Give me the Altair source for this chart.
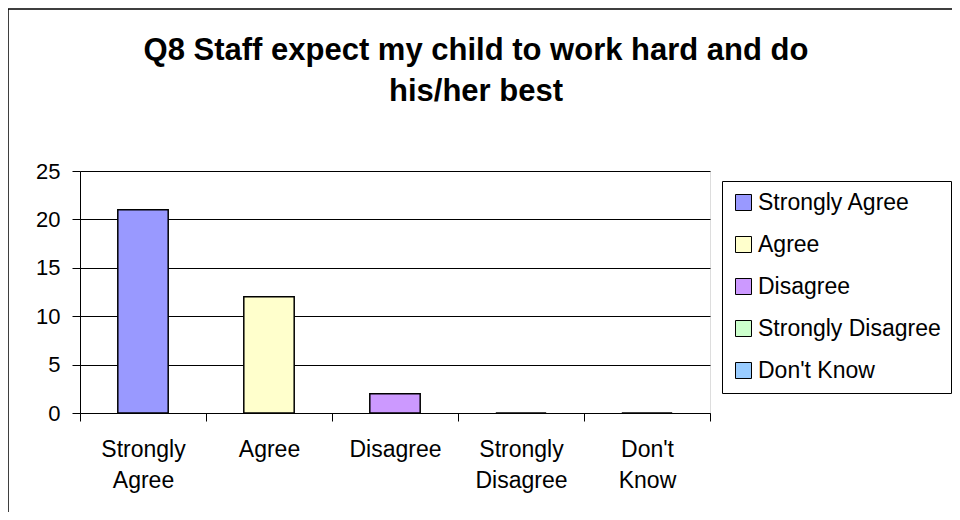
import altair as alt
import pandas as pd

categories = ["Strongly Agree", "Agree", "Disagree", "Strongly Disagree", "Don't Know"]
counts = [21, 12, 2, 0, 0]
colors = ["#9999FF", "#FFFFCC", "#CC99FF", "#CCFFCC", "#99CCFF"]
y_ticks = [0, 5, 10, 15, 20, 25]
title_lines = ["Q8 Staff expect my child to work hard and do", "his/her best"]

FONT = "Liberation Sans"

df = pd.DataFrame({"Response": categories, "Count": counts})

frame = alt.Chart(pd.DataFrame({"k": [0]})).mark_rect(
    fill="transparent", stroke="black", strokeWidth=1.5
).encode(
    x=alt.value(-72), x2=alt.value(1000), y=alt.value(-162), y2=alt.value(600)
)

bars = alt.Chart(df).mark_bar(
    width=alt.RelativeBandSize(0.4), stroke="black", strokeWidth=1.5
).encode(
    x=alt.X(
        "Response:N",
        sort=categories,
        scale=alt.Scale(paddingInner=0, paddingOuter=0),
        axis=alt.Axis(
            title=None,
            labelAngle=0,
            labelExpr="split(datum.label, ' ')",
            tickBand="extent",
            grid=False,
            domainColor="black",
            tickColor="black",
            tickSize=8,
            labelFont=FONT,
            labelFontSize=23,
            labelColor="black",
            labelLineHeight=31,
            labelPadding=17,
        ),
    ),
    y=alt.Y(
        "Count:Q",
        scale=alt.Scale(domain=[0, 25], nice=False),
        axis=alt.Axis(
            title=None,
            values=y_ticks,
            grid=True,
            gridColor="black",
            gridWidth=1,
            domainColor="black",
            tickColor="black",
            tickSize=8,
            labelFont=FONT,
            labelFontSize=22,
            labelColor="black",
            labelPadding=12,
        ),
    ),
    color=alt.Color(
        "Response:N",
        sort=categories,
        scale=alt.Scale(domain=categories, range=colors),
        legend=alt.Legend(
            title=None,
            orient="none",
            legendX=642,
            legendY=10,
            strokeColor="black",
            fillColor="white",
            padding=10,
            symbolType="square",
            symbolSize=256,
            symbolStrokeColor="black",
            symbolStrokeWidth=1,
            labelFont=FONT,
            labelFontSize=23,
            labelColor="black",
            rowPadding=18,
            labelOffset=3,
            labelLimit=400,
        ),
    ),
)

chart = alt.layer(frame, bars).properties(
    width=630,
    height=242,
    autosize=alt.AutoSizeParams(type="none"),
    padding={"left": 72, "top": 163, "right": 242, "bottom": 99},
    title=alt.TitleParams(
        text=title_lines,
        font=FONT,
        fontSize=31,
        fontWeight="bold",
        color="black",
        anchor="middle",
        dx=81,
        offset=-100,
        lineHeight=41,
    ),
).configure_view(
    fill="#C0C0C0", stroke="#808080", strokeWidth=1.5
).configure(background="white")

chart.save("out.html", embed_options={"renderer": "svg", "actions": False})
